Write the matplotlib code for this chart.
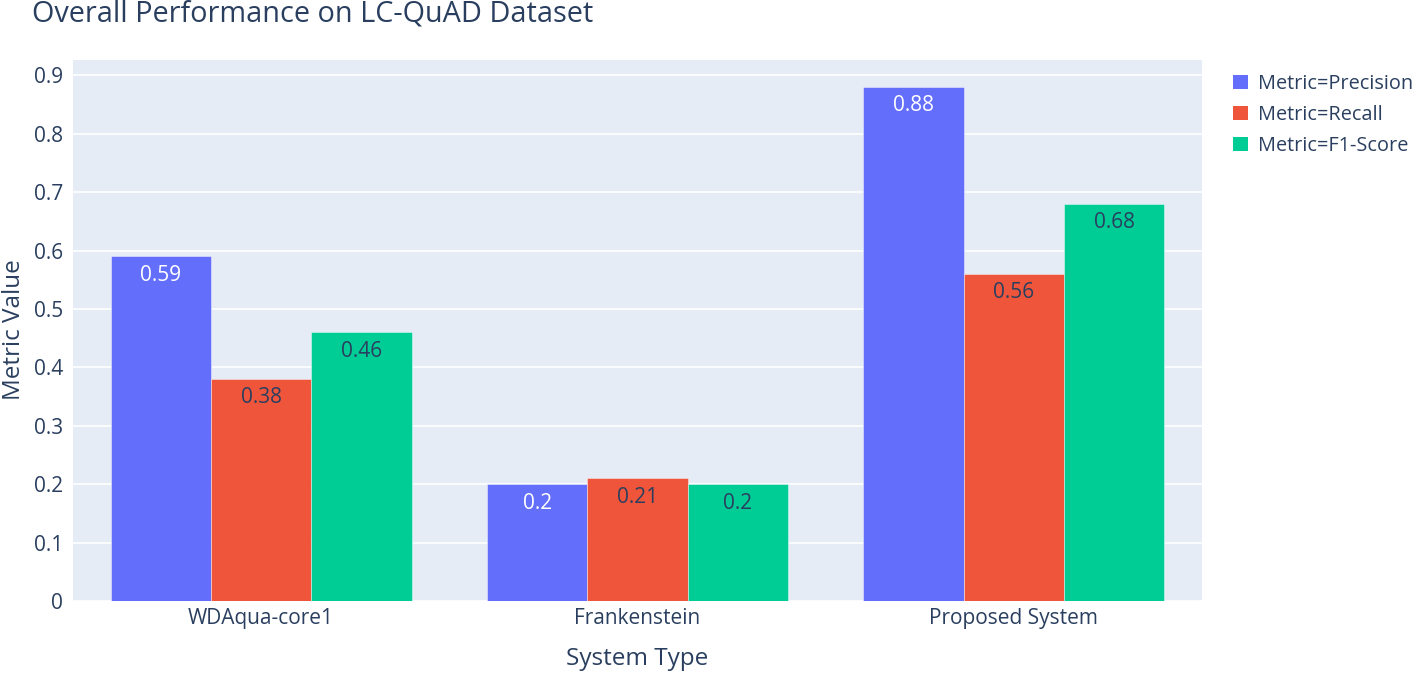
import matplotlib
matplotlib.use("Agg")
import matplotlib.pyplot as plt
import numpy as np
from matplotlib.patches import Patch

categories = ["WDAqua-core1", "Frankenstein", "Proposed System"]
metrics = ["Precision", "Recall", "F1-Score"]
precision = [0.59, 0.20, 0.88]
recall = [0.38, 0.21, 0.56]
f1_score = [0.46, 0.20, 0.68]
y_ticks = [0, 0.1, 0.2, 0.3, 0.4, 0.5, 0.6, 0.7, 0.8, 0.9]

series = [precision, recall, f1_score]
colors = ["#636EFA", "#EF553B", "#00CC96"]
text_colors = ["white", "#2a3f5f", "#2a3f5f"]
FONT = "Open Sans"
TC = "#2a3f5f"

plt.rcParams["font.family"] = [FONT, "DejaVu Sans"]

W, H = 1416, 673
fig = plt.figure(figsize=(W / 100, H / 100), dpi=100)
ax = fig.add_axes([73 / W, (H - 601) / H, 1129 / W, 541 / H])
ax.set_facecolor("#E5ECF6")

x = np.arange(len(categories))
bw = 0.8 / 3
for i, (vals, c, tc) in enumerate(zip(series, colors, text_colors)):
    pos = x - 0.8 / 2 + bw * (i + 0.5)
    bars = ax.bar(pos, vals, width=bw, color=c, edgecolor=(1, 1, 1, 0.5),
                  linewidth=0.6, zorder=3, label=f"Metric={metrics[i]}")
    for b, v in zip(bars, vals):
        ax.annotate(f"{v:g}", (b.get_x() + b.get_width() / 2, v),
                    xytext=(0, -6), textcoords="offset points",
                    ha="center", va="top", color=tc, fontsize=15, zorder=4)

ax.set_xlim(-0.5, 2.5)
ax.set_ylim(0, 0.9263)
ax.set_yticks(y_ticks)
ax.set_yticklabels([f"{t:g}" for t in y_ticks])
ax.set_xticks(x)
ax.set_xticklabels(categories)
ax.grid(axis="y", color="white", linewidth=1.2, zorder=0)
ax.set_axisbelow(True)
for s in ax.spines.values():
    s.set_visible(False)
ax.tick_params(axis="both", length=0, labelsize=15, colors=TC, pad=7)
ax.tick_params(axis="x", pad=5)
ax.set_xlabel("System Type", fontsize=17.5, color=TC, labelpad=13)

fig.text(14 / W, 1 - 330 / H, "Metric Value", rotation=90, fontsize=17.5,
         color=TC, ha="center", va="center")

fig.text(32 / W, 1 - 14 / H, "Overall Performance on LC-QuAD Dataset",
         fontsize=20.8, color=TC, ha="left", va="center")

handles = [Patch(facecolor=c, edgecolor="none") for c in colors]
leg = fig.legend(handles, [f"Metric={m}" for m in metrics],
                 loc="upper left", bbox_to_anchor=(1233 / W, 1 - 74 / H),
                 frameon=False, fontsize=14.3, handlelength=0.75, handleheight=0.75,
                 handletextpad=0.5, labelspacing=0.55, borderaxespad=0,
                 borderpad=0)
for t in leg.get_texts():
    t.set_color(TC)

fig.savefig("out.png", dpi=100, facecolor="white")
